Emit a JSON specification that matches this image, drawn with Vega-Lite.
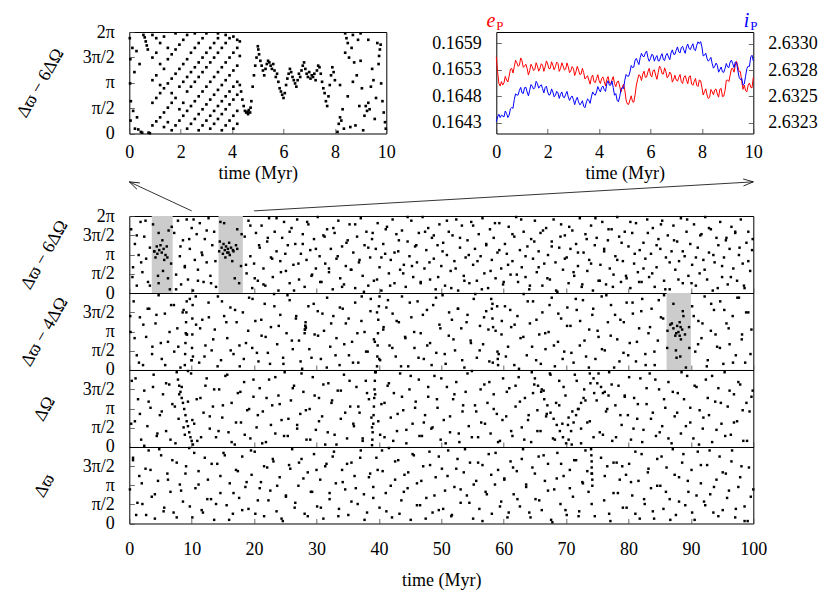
{
"$schema":"https://vega.github.io/schema/vega-lite/v6.json",
"background":"white",
"padding":{"left":12.3,"top":10,"right":5,"bottom":5},
"bounds":"flush",
"spacing":184,
"config":{
"font":"Liberation Serif, DejaVu Serif, serif",
"view":{"stroke":"black","strokeWidth":1},
"axis":{"labelFont":"Liberation Serif, DejaVu Serif, serif","titleFont":"Liberation Serif, DejaVu Serif, serif","labelFontSize":18,"titleFontSize":18,"titleFontWeight":"normal","labelColor":"#000","titleColor":"#000","domain":false,"grid":false,"tickColor":"#444","tickSize":-5,"tickWidth":0.8,"labelFlush":false}
},
"datasets":{
"tl":[{"t":0.02,"y":5.9},{"t":0.04,"y":4.6},{"t":0.03,"y":3.1},{"t":0.06,"y":2.0},{"t":0.05,"y":0.8},{"t":0.12,"y":5.3},{"t":0.15,"y":1.4},{"t":0.2,"y":3.8},{"t":0.22,"y":0.3},{"t":0.28,"y":5.1},{"t":0.3,"y":1.0},{"t":0.35,"y":0.25},{"t":0.4,"y":4.3},{"t":0.45,"y":0.1},{"t":0.5,"y":0.05},{"t":0.55,"y":6.1},{"t":0.6,"y":5.95},{"t":0.64,"y":5.7},{"t":0.68,"y":5.45},{"t":0.72,"y":5.2},{"t":0.75,"y":0.05},{"t":0.8,"y":0.02},
{"t":0.9,"y":0.5},{"t":0.9,"y":1.9},{"t":0.9,"y":3.3},{"t":0.9,"y":4.7},{"t":0.9,"y":6.1},
{"t":1.05,"y":0.75},{"t":1.05,"y":2.2},{"t":1.05,"y":3.6},{"t":1.05,"y":5.0},{"t":1.05,"y":5.9},
{"t":1.2,"y":1.0},{"t":1.2,"y":2.5},{"t":1.2,"y":3.0},{"t":1.2,"y":4.3},{"t":1.2,"y":5.6},
{"t":1.35,"y":0.4},{"t":1.35,"y":1.3},{"t":1.35,"y":2.8},{"t":1.35,"y":4.0},{"t":1.35,"y":6.0},
{"t":1.5,"y":0.7},{"t":1.5,"y":1.6},{"t":1.5,"y":3.1},{"t":1.5,"y":4.6},{"t":1.5,"y":5.3},
{"t":1.65,"y":0.2},{"t":1.65,"y":1.9},{"t":1.65,"y":2.5},{"t":1.65,"y":3.4},{"t":1.65,"y":4.9},
{"t":1.8,"y":0.5},{"t":1.8,"y":2.2},{"t":1.8,"y":3.7},{"t":1.8,"y":5.2},{"t":1.8,"y":6.2},
{"t":1.95,"y":0.8},{"t":1.95,"y":1.5},{"t":1.95,"y":2.9},{"t":1.95,"y":4.0},{"t":1.95,"y":5.5},
{"t":2.1,"y":1.1},{"t":2.1,"y":1.9},{"t":2.1,"y":3.2},{"t":2.1,"y":4.3},{"t":2.1,"y":5.8},
{"t":2.25,"y":0.3},{"t":2.25,"y":1.4},{"t":2.25,"y":2.6},{"t":2.25,"y":3.5},{"t":2.25,"y":4.6},{"t":2.25,"y":6.1},
{"t":2.4,"y":0.6},{"t":2.4,"y":1.7},{"t":2.4,"y":2.9},{"t":2.4,"y":3.8},{"t":2.4,"y":5.0},
{"t":2.55,"y":0.9},{"t":2.55,"y":2.0},{"t":2.55,"y":3.2},{"t":2.55,"y":4.1},{"t":2.55,"y":5.3},{"t":2.55,"y":6.2},
{"t":2.7,"y":0.2},{"t":2.7,"y":1.2},{"t":2.7,"y":2.3},{"t":2.7,"y":3.5},{"t":2.7,"y":4.4},{"t":2.7,"y":5.6},
{"t":2.85,"y":0.5},{"t":2.85,"y":1.5},{"t":2.85,"y":2.6},{"t":2.85,"y":3.8},{"t":2.85,"y":4.7},{"t":2.85,"y":5.9},
{"t":3.0,"y":0.8},{"t":3.0,"y":1.8},{"t":3.0,"y":2.9},{"t":3.0,"y":4.1},{"t":3.0,"y":5.0},{"t":3.0,"y":6.2},
{"t":3.15,"y":0.3},{"t":3.15,"y":1.1},{"t":3.15,"y":2.1},{"t":3.15,"y":3.2},{"t":3.15,"y":4.4},{"t":3.15,"y":5.3},
{"t":3.3,"y":0.6},{"t":3.3,"y":1.4},{"t":3.3,"y":2.4},{"t":3.3,"y":3.5},{"t":3.3,"y":4.7},{"t":3.3,"y":5.6},
{"t":3.45,"y":0.9},{"t":3.45,"y":1.7},{"t":3.45,"y":2.7},{"t":3.45,"y":3.8},{"t":3.45,"y":5.0},{"t":3.45,"y":5.9},{"t":3.45,"y":6.2},
{"t":3.6,"y":0.2},{"t":3.6,"y":1.2},{"t":3.6,"y":2.0},{"t":3.6,"y":3.0},{"t":3.6,"y":4.1},{"t":3.6,"y":5.3},
{"t":3.75,"y":0.5},{"t":3.75,"y":1.5},{"t":3.75,"y":2.3},{"t":3.75,"y":3.3},{"t":3.75,"y":4.4},{"t":3.75,"y":5.6},{"t":3.75,"y":6.1},
{"t":3.9,"y":0.8},{"t":3.9,"y":1.8},{"t":3.9,"y":2.6},{"t":3.9,"y":3.6},{"t":3.9,"y":4.7},{"t":3.9,"y":5.9},
{"t":4.05,"y":0.3},{"t":4.05,"y":1.1},{"t":4.05,"y":2.1},{"t":4.05,"y":2.9},{"t":4.05,"y":3.9},{"t":4.05,"y":5.0},{"t":4.05,"y":6.0},
{"t":4.2,"y":0.6},{"t":4.2,"y":1.4},{"t":4.2,"y":2.4},{"t":4.2,"y":3.2},{"t":4.2,"y":4.2},{"t":4.2,"y":5.3},{"t":4.2,"y":5.8},
{"t":4.3,"y":3.0},{"t":4.35,"y":2.6},{"t":4.4,"y":2.1},{"t":4.45,"y":1.7},{"t":4.5,"y":1.4},{"t":4.55,"y":1.3},{"t":4.6,"y":1.35},{"t":4.62,"y":1.2},{"t":4.65,"y":1.45},{"t":4.7,"y":1.3},{"t":4.72,"y":1.6},{"t":4.75,"y":2.0},{"t":4.3,"y":4.8},{"t":4.3,"y":5.7},
{"t":4.8,"y":2.9},{"t":4.85,"y":3.6},{"t":4.9,"y":4.2},{"t":4.95,"y":4.7},{"t":5.0,"y":5.4},{"t":5.02,"y":5.2},{"t":5.05,"y":4.9},{"t":5.1,"y":4.5},{"t":5.15,"y":4.2},{"t":5.2,"y":3.9},{"t":5.25,"y":3.6},{"t":5.3,"y":4.0},{"t":5.35,"y":4.3},{"t":5.4,"y":4.5},{"t":5.45,"y":4.4},{"t":5.5,"y":4.2},{"t":5.55,"y":4.0},{"t":5.6,"y":4.3},{"t":5.65,"y":3.9},{"t":5.7,"y":3.5},{"t":5.75,"y":3.7},{"t":5.8,"y":3.2},{"t":5.85,"y":2.8},{"t":5.9,"y":2.6},{"t":5.95,"y":2.4},{"t":6.0,"y":2.2},{"t":6.05,"y":2.5},{"t":6.1,"y":3.0},{"t":6.15,"y":3.4},{"t":6.2,"y":3.7},{"t":6.25,"y":4.0},{"t":6.3,"y":3.8},{"t":6.35,"y":3.5},{"t":6.4,"y":3.3},{"t":6.45,"y":3.1},{"t":6.5,"y":2.9},{"t":6.55,"y":3.3},{"t":6.6,"y":3.7},{"t":6.65,"y":3.5},{"t":6.7,"y":3.9},{"t":6.75,"y":4.2},{"t":6.8,"y":4.4},{"t":6.85,"y":4.0},{"t":6.9,"y":3.7},{"t":6.95,"y":3.5},{"t":7.0,"y":3.8},{"t":7.05,"y":3.4},{"t":7.1,"y":3.6},{"t":7.15,"y":3.5},{"t":7.2,"y":3.7},{"t":7.25,"y":3.3},{"t":7.3,"y":3.9},{"t":7.35,"y":4.2},{"t":7.4,"y":4.1},{"t":7.45,"y":3.7},{"t":7.5,"y":3.2},{"t":7.55,"y":2.8},{"t":7.6,"y":2.5},{"t":7.65,"y":2.0},{"t":7.7,"y":1.7},{"t":7.75,"y":2.3},{"t":7.8,"y":3.0},{"t":7.85,"y":3.6},{"t":7.9,"y":4.1},{"t":7.95,"y":3.8},{"t":8.0,"y":3.3},
{"t":8.1,"y":0.1},{"t":8.15,"y":0.6},{"t":8.2,"y":1.0},{"t":8.25,"y":0.8},{"t":8.3,"y":1.5},{"t":8.35,"y":0.3},{"t":8.4,"y":6.2},{"t":8.45,"y":5.9},{"t":8.5,"y":5.6},{"t":8.55,"y":4.7},{"t":8.6,"y":0.4},{"t":8.65,"y":5.3},{"t":8.7,"y":6.1},{"t":8.75,"y":4.4},{"t":8.8,"y":0.5},{"t":8.85,"y":3.6},{"t":8.9,"y":5.8},{"t":8.95,"y":1.7},{"t":9.0,"y":6.2},{"t":9.05,"y":2.8},{"t":9.1,"y":0.2},{"t":9.15,"y":1.1},{"t":9.2,"y":1.7},{"t":9.25,"y":1.4},{"t":9.3,"y":1.9},{"t":9.35,"y":1.5},{"t":9.4,"y":2.9},{"t":9.45,"y":4.0},{"t":9.5,"y":3.3},{"t":9.55,"y":0.9},{"t":9.6,"y":2.2},{"t":9.65,"y":5.6},{"t":9.7,"y":4.3},{"t":9.72,"y":4.8},{"t":9.75,"y":5.2},{"t":9.78,"y":5.5},{"t":9.8,"y":3.1},{"t":9.85,"y":2.0},{"t":9.9,"y":1.3},{"t":9.95,"y":0.7},{"t":9.98,"y":0.3},{"t":8.2,"y":3.0},{"t":8.5,"y":2.3},{"t":8.7,"y":3.2},{"t":9.0,"y":4.5},{"t":9.3,"y":5.8},{"t":8.4,"y":5.0}],
"ep":[{"t":0,"v":0.165602},{"t":0.05,"v":0.165302},{"t":0.1,"v":0.165068},{"t":0.15,"v":0.165015},{"t":0.2,"v":0.165102},{"t":0.25,"v":0.165035},{"t":0.3,"v":0.165081},{"t":0.4,"v":0.165135},{"t":0.5,"v":0.165215},{"t":0.6,"v":0.165368},{"t":0.7,"v":0.165402},{"t":0.8,"v":0.165482},{"t":0.9,"v":0.165435},{"t":1.0,"v":0.165522},{"t":1.1,"v":0.165415},{"t":1.2,"v":0.165368},{"t":1.3,"v":0.165322},{"t":1.4,"v":0.165402},{"t":1.5,"v":0.165349},{"t":1.6,"v":0.165415},{"t":1.7,"v":0.165368},{"t":1.8,"v":0.165435},{"t":1.9,"v":0.165402},{"t":2.0,"v":0.165455},{"t":2.1,"v":0.165368},{"t":2.2,"v":0.165435},{"t":2.3,"v":0.165402},{"t":2.4,"v":0.165469},{"t":2.5,"v":0.165368},{"t":2.6,"v":0.165415},{"t":2.7,"v":0.165355},{"t":2.8,"v":0.165402},{"t":2.9,"v":0.165322},{"t":3.0,"v":0.165368},{"t":3.1,"v":0.165302},{"t":3.2,"v":0.165335},{"t":3.3,"v":0.165255},{"t":3.4,"v":0.165282},{"t":3.5,"v":0.165188},{"t":3.6,"v":0.165135},{"t":3.7,"v":0.165188},{"t":3.8,"v":0.165102},{"t":3.9,"v":0.165162},{"t":4.0,"v":0.165121},{"t":4.1,"v":0.165168},{"t":4.2,"v":0.165108},{"t":4.3,"v":0.165148},{"t":4.4,"v":0.165081},{"t":4.5,"v":0.165135},{"t":4.6,"v":0.165068},{"t":4.7,"v":0.165095},{"t":4.8,"v":0.165015},{"t":4.9,"v":0.164988},{"t":5.0,"v":0.164935},{"t":5.05,"v":0.164734},{"t":5.1,"v":0.164654},{"t":5.2,"v":0.164734},{"t":5.3,"v":0.164701},{"t":5.4,"v":0.164835},{"t":5.45,"v":0.165035},{"t":5.5,"v":0.165148},{"t":5.6,"v":0.165215},{"t":5.7,"v":0.165255},{"t":5.8,"v":0.165188},{"t":5.9,"v":0.165302},{"t":6.0,"v":0.165235},{"t":6.1,"v":0.165322},{"t":6.2,"v":0.165235},{"t":6.3,"v":0.165282},{"t":6.4,"v":0.165368},{"t":6.5,"v":0.165255},{"t":6.6,"v":0.165302},{"t":6.7,"v":0.165215},{"t":6.8,"v":0.165255},{"t":6.9,"v":0.165148},{"t":7.0,"v":0.165135},{"t":7.1,"v":0.165188},{"t":7.2,"v":0.165102},{"t":7.3,"v":0.165188},{"t":7.4,"v":0.165135},{"t":7.5,"v":0.165202},{"t":7.6,"v":0.165055},{"t":7.7,"v":0.165102},{"t":7.8,"v":0.165028},{"t":7.9,"v":0.165135},{"t":8.0,"v":0.164988},{"t":8.1,"v":0.164901},{"t":8.2,"v":0.164835},{"t":8.3,"v":0.164787},{"t":8.4,"v":0.164901},{"t":8.5,"v":0.164935},{"t":8.6,"v":0.164854},{"t":8.7,"v":0.164948},{"t":8.8,"v":0.164801},{"t":8.9,"v":0.164921},{"t":9.0,"v":0.165135},{"t":9.1,"v":0.165235},{"t":9.2,"v":0.165368},{"t":9.3,"v":0.165435},{"t":9.4,"v":0.165402},{"t":9.5,"v":0.165302},{"t":9.55,"v":0.165102},{"t":9.6,"v":0.164948},{"t":9.7,"v":0.164921},{"t":9.8,"v":0.165035},{"t":9.9,"v":0.164988},{"t":10.0,"v":0.165188},
{"t":0.35,"v":0.165208},{"t":0.45,"v":0.165095},{"t":0.55,"v":0.165352},{"t":0.65,"v":0.165275},{"t":0.75,"v":0.165532},{"t":0.85,"v":0.165409},{"t":0.95,"v":0.165579},{"t":1.05,"v":0.165389},{"t":1.15,"v":0.165452},{"t":1.25,"v":0.165235},{"t":1.35,"v":0.165452},{"t":1.45,"v":0.165326},{"t":1.55,"v":0.165482},{"t":1.65,"v":0.165312},{"t":1.75,"v":0.165462},{"t":1.85,"v":0.165309},{"t":1.95,"v":0.165519},{"t":2.05,"v":0.165362},{"t":2.15,"v":0.165502},{"t":2.25,"v":0.165339},{"t":2.35,"v":0.165496},{"t":2.45,"v":0.165309},{"t":2.55,"v":0.165482},{"t":2.65,"v":0.165335},{"t":2.75,"v":0.165479},{"t":2.85,"v":0.165282},{"t":2.95,"v":0.165405},{"t":3.05,"v":0.165225},{"t":3.15,"v":0.165409},{"t":3.25,"v":0.165245},{"t":3.35,"v":0.165369},{"t":3.45,"v":0.165155},{"t":3.55,"v":0.165222},{"t":3.65,"v":0.165052},{"t":3.75,"v":0.165235},{"t":3.85,"v":0.165082},{"t":3.95,"v":0.165242},{"t":4.05,"v":0.165065},{"t":4.15,"v":0.165198},{"t":4.25,"v":0.165018},{"t":4.35,"v":0.165205},{"t":4.45,"v":0.165058},{"t":4.55,"v":0.165202},{"t":4.65,"v":0.165002},{"t":4.75,"v":0.165115},{"t":4.85,"v":0.164892},{"t":4.95,"v":0.165052},{"t":5.15,"v":0.164644},{"t":5.25,"v":0.164818},{"t":5.35,"v":0.164688},{"t":5.55,"v":0.165242},{"t":5.65,"v":0.165125},{"t":5.75,"v":0.165312},{"t":5.85,"v":0.165195},{"t":5.95,"v":0.165369},{"t":6.05,"v":0.165199},{"t":6.15,"v":0.165339},{"t":6.25,"v":0.165149},{"t":6.35,"v":0.165415},{"t":6.45,"v":0.165262},{"t":6.55,"v":0.165379},{"t":6.65,"v":0.165179},{"t":6.75,"v":0.165295},{"t":6.85,"v":0.165092},{"t":6.95,"v":0.165232},{"t":7.05,"v":0.165112},{"t":7.15,"v":0.165245},{"t":7.25,"v":0.165065},{"t":7.35,"v":0.165222},{"t":7.45,"v":0.165059},{"t":7.55,"v":0.165219},{"t":7.65,"v":0.165029},{"t":7.75,"v":0.165165},{"t":7.85,"v":0.165002},{"t":7.95,"v":0.165122},{"t":8.05,"v":0.164835},{"t":8.15,"v":0.164958},{"t":8.25,"v":0.164761},{"t":8.35,"v":0.164944},{"t":8.45,"v":0.164838},{"t":8.55,"v":0.164955},{"t":8.65,"v":0.164791},{"t":8.75,"v":0.164965},{"t":8.85,"v":0.164811},{"t":8.95,"v":0.165128},{"t":9.05,"v":0.165105},{"t":9.15,"v":0.165362},{"t":9.25,"v":0.165292},{"t":9.35,"v":0.165509},{"t":9.45,"v":0.165302},{"t":9.65,"v":0.165035},{"t":9.75,"v":0.164898},{"t":9.85,"v":0.165072},{"t":9.95,"v":0.164978}],
"ip":[{"t":0,"v":2.63229},{"t":0.05,"v":2.632337},{"t":0.1,"v":2.632362},{"t":0.15,"v":2.632331},{"t":0.2,"v":2.632353},{"t":0.3,"v":2.632337},{"t":0.4,"v":2.632369},{"t":0.5,"v":2.632353},{"t":0.6,"v":2.632425},{"t":0.7,"v":2.632501},{"t":0.8,"v":2.632542},{"t":0.9,"v":2.632589},{"t":1.0,"v":2.632564},{"t":1.1,"v":2.632614},{"t":1.2,"v":2.632573},{"t":1.3,"v":2.632589},{"t":1.4,"v":2.632627},{"t":1.5,"v":2.632614},{"t":1.6,"v":2.632652},{"t":1.7,"v":2.632627},{"t":1.8,"v":2.632605},{"t":1.9,"v":2.632614},{"t":2.0,"v":2.632573},{"t":2.1,"v":2.632551},{"t":2.2,"v":2.632573},{"t":2.3,"v":2.632542},{"t":2.4,"v":2.632564},{"t":2.5,"v":2.632551},{"t":2.6,"v":2.632526},{"t":2.7,"v":2.632551},{"t":2.8,"v":2.632526},{"t":2.9,"v":2.63252},{"t":3.0,"v":2.632501},{"t":3.1,"v":2.632495},{"t":3.2,"v":2.632479},{"t":3.3,"v":2.632463},{"t":3.4,"v":2.632438},{"t":3.5,"v":2.63247},{"t":3.6,"v":2.632495},{"t":3.7,"v":2.632526},{"t":3.8,"v":2.632551},{"t":3.9,"v":2.632573},{"t":4.0,"v":2.632595},{"t":4.1,"v":2.632614},{"t":4.2,"v":2.632595},{"t":4.3,"v":2.632652},{"t":4.4,"v":2.632637},{"t":4.5,"v":2.632677},{"t":4.55,"v":2.632614},{"t":4.6,"v":2.632542},{"t":4.7,"v":2.632495},{"t":4.8,"v":2.632526},{"t":4.9,"v":2.632614},{"t":5.0,"v":2.632684},{"t":5.1,"v":2.632722},{"t":5.2,"v":2.632763},{"t":5.3,"v":2.632803},{"t":5.4,"v":2.632873},{"t":5.5,"v":2.632857},{"t":5.6,"v":2.632898},{"t":5.7,"v":2.632911},{"t":5.8,"v":2.632942},{"t":5.9,"v":2.632898},{"t":6.0,"v":2.632889},{"t":6.1,"v":2.63292},{"t":6.2,"v":2.632898},{"t":6.3,"v":2.632866},{"t":6.4,"v":2.632911},{"t":6.5,"v":2.632879},{"t":6.6,"v":2.63292},{"t":6.7,"v":2.632904},{"t":6.8,"v":2.632942},{"t":6.9,"v":2.63293},{"t":7.0,"v":2.632967},{"t":7.1,"v":2.632952},{"t":7.2,"v":2.632993},{"t":7.3,"v":2.632967},{"t":7.4,"v":2.632999},{"t":7.5,"v":2.632983},{"t":7.6,"v":2.633005},{"t":7.7,"v":2.632974},{"t":7.8,"v":2.633015},{"t":7.9,"v":2.63303},{"t":7.95,"v":2.633049},{"t":8.0,"v":2.632999},{"t":8.1,"v":2.63292},{"t":8.2,"v":2.632889},{"t":8.3,"v":2.632879},{"t":8.4,"v":2.632841},{"t":8.5,"v":2.632816},{"t":8.6,"v":2.632826},{"t":8.7,"v":2.632785},{"t":8.8,"v":2.632763},{"t":8.9,"v":2.632794},{"t":9.0,"v":2.63281},{"t":9.1,"v":2.632857},{"t":9.2,"v":2.632841},{"t":9.3,"v":2.632857},{"t":9.4,"v":2.632772},{"t":9.5,"v":2.63269},{"t":9.6,"v":2.632637},{"t":9.7,"v":2.632722},{"t":9.8,"v":2.632816},{"t":9.9,"v":2.632904},{"t":10.0,"v":2.632866},
{"t":0.35,"v":2.632393},{"t":0.45,"v":2.632331},{"t":0.55,"v":2.632414},{"t":0.65,"v":2.632418},{"t":0.75,"v":2.632556},{"t":0.85,"v":2.632545},{"t":0.95,"v":2.632616},{"t":1.05,"v":2.632559},{"t":1.15,"v":2.632618},{"t":1.25,"v":2.632536},{"t":1.35,"v":2.632643},{"t":1.45,"v":2.6326},{"t":1.55,"v":2.632673},{"t":1.65,"v":2.632609},{"t":1.75,"v":2.632641},{"t":1.85,"v":2.632564},{"t":1.95,"v":2.632628},{"t":2.05,"v":2.632542},{"t":2.15,"v":2.632602},{"t":2.25,"v":2.632527},{"t":2.35,"v":2.632578},{"t":2.45,"v":2.632512},{"t":2.55,"v":2.632573},{"t":2.65,"v":2.632518},{"t":2.75,"v":2.632578},{"t":2.85,"v":2.632493},{"t":2.95,"v":2.632535},{"t":3.05,"v":2.632453},{"t":3.15,"v":2.632522},{"t":3.25,"v":2.632451},{"t":3.35,"v":2.63249},{"t":3.45,"v":2.632424},{"t":3.55,"v":2.632507},{"t":3.65,"v":2.632465},{"t":3.75,"v":2.632573},{"t":3.85,"v":2.632542},{"t":3.95,"v":2.632624},{"t":4.05,"v":2.632574},{"t":4.15,"v":2.632629},{"t":4.25,"v":2.632578},{"t":4.35,"v":2.632679},{"t":4.45,"v":2.632637},{"t":4.65,"v":2.632558},{"t":4.75,"v":2.63248},{"t":4.85,"v":2.632595},{"t":4.95,"v":2.632604},{"t":5.05,"v":2.632738},{"t":5.15,"v":2.632722},{"t":5.25,"v":2.632823},{"t":5.35,"v":2.632808},{"t":5.45,"v":2.63289},{"t":5.55,"v":2.632832},{"t":5.65,"v":2.632939},{"t":5.75,"v":2.632906},{"t":5.85,"v":2.63296},{"t":5.95,"v":2.632863},{"t":6.05,"v":2.632929},{"t":6.15,"v":2.632864},{"t":6.25,"v":2.632917},{"t":6.35,"v":2.632868},{"t":6.45,"v":2.632935},{"t":6.55,"v":2.632869},{"t":6.65,"v":2.632937},{"t":6.75,"v":2.632878},{"t":6.85,"v":2.632971},{"t":6.95,"v":2.632928},{"t":7.05,"v":2.632999},{"t":7.15,"v":2.632942},{"t":7.25,"v":2.633005},{"t":7.35,"v":2.632938},{"t":7.45,"v":2.633026},{"t":7.55,"v":2.632974},{"t":7.65,"v":2.633029},{"t":7.75,"v":2.632964},{"t":7.85,"v":2.633047},{"t":8.05,"v":2.632914},{"t":8.15,"v":2.632939},{"t":8.25,"v":2.632864},{"t":8.35,"v":2.6329},{"t":8.45,"v":2.632798},{"t":8.55,"v":2.632846},{"t":8.65,"v":2.63276},{"t":8.75,"v":2.632809},{"t":8.85,"v":2.632758},{"t":8.95,"v":2.632842},{"t":9.05,"v":2.632803},{"t":9.15,"v":2.632874},{"t":9.25,"v":2.632804},{"t":9.35,"v":2.632849},{"t":9.45,"v":2.632711},{"t":9.55,"v":2.632703},{"t":9.65,"v":2.632649},{"t":9.75,"v":2.632794},{"t":9.85,"v":2.632815},{"t":9.95,"v":2.63292}],
"lab":[{"k":"e","t":0,"v":0.1662},{"k":"eP","t":0,"v":0.16615},{"k":"i","t":10,"v":2.633187},{"k":"iP","t":10,"v":2.633163}],
"boxes":[{"p":1,"t":3.6,"t2":6.95,"y":0,"y2":6.2832},{"p":1,"t":14.3,"t2":18.2,"y":0,"y2":6.2832},{"p":2,"t":86.1,"t2":90,"y":0,"y2":6.2832}],
"arrows":[{"id":1,"t":10,"y":6.7,"t2":0,"y2":9.07},{"id":2,"t":20,"y":6.7,"t2":100,"y2":9.07}],
"heads":[{"id":1,"t":0,"y":9.07},{"id":2,"t":100,"y":9.07}],
"p1":[{"t":0.3,"y":5.2},{"t":0.6,"y":2.1},{"t":0.9,"y":4.0},{"t":1.2,"y":0.6},{"t":1.5,"y":3.1},{"t":1.8,"y":5.8},{"t":2.1,"y":1.7},{"t":2.4,"y":4.6},{"t":2.7,"y":2.8},{"t":3.0,"y":0.9},{"t":3.3,"y":3.7},
{"t":3.8,"y":5.6},{"t":4.0,"y":3.4},{"t":4.2,"y":2.9},{"t":4.4,"y":3.8},{"t":4.5,"y":3.2},{"t":4.6,"y":1.4},{"t":4.7,"y":0.8},{"t":4.8,"y":3.5},{"t":5.0,"y":3.9},{"t":5.2,"y":3.3},{"t":5.3,"y":4.3},{"t":5.5,"y":3.6},{"t":5.6,"y":2.7},{"t":5.8,"y":3.1},{"t":6.0,"y":3.8},{"t":6.2,"y":1.2},{"t":6.3,"y":5.1},{"t":6.5,"y":0.3},{"t":6.7,"y":2.4},
{"t":7.2,"y":4.9},{"t":7.5,"y":1.5},{"t":7.8,"y":5.9},{"t":8.1,"y":3.0},{"t":8.3,"y":0.7},{"t":8.6,"y":4.3},{"t":8.9,"y":2.2},{"t":9.2,"y":6.0},{"t":9.4,"y":1.1},{"t":9.7,"y":3.6},{"t":10.0,"y":5.3},{"t":10.2,"y":0.2},{"t":10.5,"y":2.7},{"t":10.8,"y":4.8},{"t":11.0,"y":1.9},{"t":11.3,"y":5.7},{"t":11.6,"y":3.3},{"t":11.9,"y":0.9},{"t":12.1,"y":4.4},{"t":12.4,"y":2.5},{"t":12.7,"y":6.1},{"t":13.0,"y":1.4},{"t":13.3,"y":3.9},{"t":13.6,"y":5.0},{"t":13.9,"y":0.5},
{"t":14.4,"y":3.4},{"t":14.6,"y":5.8},{"t":14.8,"y":3.7},{"t":15.0,"y":3.2},{"t":15.1,"y":4.0},{"t":15.3,"y":3.5},{"t":15.4,"y":2.9},{"t":15.5,"y":3.8},{"t":15.7,"y":3.3},{"t":15.8,"y":3.6},{"t":16.0,"y":4.1},{"t":16.1,"y":3.1},{"t":16.3,"y":3.7},{"t":16.5,"y":2.6},{"t":16.7,"y":3.4},{"t":16.9,"y":1.2},{"t":17.1,"y":3.9},{"t":17.3,"y":5.2},{"t":17.6,"y":0.8},{"t":17.9,"y":2.2},
{"t":18.5,"y":4.6},{"t":18.8,"y":1.6},{"t":19.1,"y":5.9},{"t":19.4,"y":3.0},{"t":19.7,"y":0.4},{"t":20.0,"y":2.4},{"t":20.3,"y":4.9},{"t":20.6,"y":1.0},{"t":20.9,"y":3.7},{"t":21.2,"y":5.5},{"t":21.5,"y":2.0},{"t":21.8,"y":0.6},{"t":22.1,"y":4.2},{"t":22.4,"y":6.1},{"t":22.7,"y":2.9},{"t":23.0,"y":1.3},{"t":23.3,"y":5.0},{"t":23.6,"y":3.4},{"t":23.9,"y":0.2},{"t":24.2,"y":2.6},{"t":24.5,"y":4.5},{"t":24.8,"y":5.8},{"t":25.1,"y":1.8},{"t":25.4,"y":3.9},{"t":25.7,"y":0.8},{"t":26.0,"y":5.3},{"t":26.3,"y":2.3},{"t":26.6,"y":4.0},{"t":26.9,"y":6.0},{"t":27.2,"y":1.1},{"t":27.5,"y":3.2},{"t":27.8,"y":4.8},{"t":28.1,"y":0.5},{"t":28.4,"y":2.7},{"t":28.7,"y":5.6},{"t":29.0,"y":3.5},{"t":29.3,"y":1.5},{"t":29.6,"y":4.4},{"t":29.9,"y":2.0},{"t":30.2,"y":6.2},{"t":30.5,"y":3.0},{"t":30.8,"y":0.9},{"t":31.1,"y":4.7},{"t":31.4,"y":2.4},{"t":31.7,"y":5.2},{"t":32.0,"y":1.7},{"t":32.3,"y":3.6},{"t":32.6,"y":0.3},{"t":32.9,"y":4.9},{"t":33.2,"y":2.8},{"t":33.5,"y":5.9},{"t":33.8,"y":1.2},{"t":34.1,"y":3.8},{"t":34.4,"y":0.7},{"t":34.7,"y":2.2},{"t":35.0,"y":4.3},{"t":35.3,"y":5.6},{"t":35.6,"y":1.9},{"t":35.9,"y":3.3},{"t":36.2,"y":0.4},{"t":36.5,"y":4.6},{"t":36.8,"y":2.5},{"t":37.1,"y":6.1},{"t":37.4,"y":1.4},{"t":37.7,"y":3.9},{"t":38.0,"y":5.0},{"t":38.3,"y":0.6},{"t":38.6,"y":2.9},{"t":38.9,"y":4.4},{"t":39.2,"y":1.0},{"t":39.5,"y":3.6},{"t":39.8,"y":5.7},{"t":40.1,"y":2.1},{"t":40.4,"y":0.2},{"t":40.7,"y":4.0},{"t":41.0,"y":3.2},{"t":41.3,"y":5.4},{"t":41.6,"y":1.6},{"t":41.9,"y":2.7},{"t":42.2,"y":6.0},{"t":42.5,"y":0.8},{"t":42.8,"y":4.8},{"t":43.1,"y":3.4},{"t":43.4,"y":1.9},{"t":43.7,"y":5.1},{"t":44.0,"y":2.3},{"t":44.3,"y":0.5},{"t":44.6,"y":4.2},{"t":44.9,"y":3.0},{"t":45.2,"y":5.9},{"t":45.5,"y":1.3},{"t":45.8,"y":3.8},{"t":46.1,"y":2.5},{"t":46.4,"y":4.9},{"t":46.7,"y":0.9},{"t":47.0,"y":6.2},{"t":47.3,"y":2.0},{"t":47.6,"y":3.5},{"t":47.9,"y":5.3},{"t":48.2,"y":1.1},{"t":48.5,"y":4.5},{"t":48.8,"y":2.8},{"t":49.1,"y":0.3},{"t":49.4,"y":3.9},{"t":49.7,"y":5.6},
{"t":50.0,"y":2.2},{"t":50.3,"y":4.1},{"t":50.6,"y":0.6},{"t":50.9,"y":3.1},{"t":51.2,"y":5.0},{"t":51.5,"y":1.8},{"t":51.8,"y":4.7},{"t":52.1,"y":2.6},{"t":52.4,"y":6.0},{"t":52.7,"y":0.2},{"t":53.0,"y":3.7},{"t":53.3,"y":5.5},{"t":53.6,"y":1.4},{"t":53.9,"y":2.9},{"t":54.2,"y":4.3},{"t":54.5,"y":0.8},{"t":54.8,"y":5.8},{"t":55.1,"y":2.3},{"t":55.4,"y":3.6},{"t":55.7,"y":1.0},{"t":56.0,"y":4.8},{"t":56.3,"y":3.0},{"t":56.6,"y":6.1},{"t":56.9,"y":1.6},{"t":57.2,"y":3.9},{"t":57.5,"y":0.4},{"t":57.8,"y":5.2},{"t":58.1,"y":2.7},{"t":58.4,"y":4.5},{"t":58.7,"y":1.2},{"t":59.0,"y":3.3},{"t":59.3,"y":5.7},{"t":59.6,"y":2.0},{"t":59.9,"y":0.7},{"t":60.2,"y":4.0},{"t":60.5,"y":3.2},{"t":60.8,"y":5.4},{"t":61.1,"y":1.5},{"t":61.4,"y":2.6},{"t":61.7,"y":4.6},{"t":62.0,"y":6.2},{"t":62.3,"y":0.9},{"t":62.6,"y":3.5},{"t":62.9,"y":2.1},{"t":63.2,"y":5.0},{"t":63.5,"y":1.3},{"t":63.8,"y":3.8},{"t":64.1,"y":0.3},{"t":64.4,"y":4.4},{"t":64.7,"y":2.8},{"t":65.0,"y":5.9},{"t":65.3,"y":1.7},{"t":65.6,"y":3.4},{"t":65.9,"y":4.9},{"t":66.2,"y":0.6},{"t":66.5,"y":2.4},{"t":66.8,"y":5.3},{"t":67.1,"y":3.1},{"t":67.4,"y":1.1},{"t":67.7,"y":4.2},{"t":68.0,"y":6.0},{"t":68.3,"y":2.5},{"t":68.6,"y":0.1},{"t":68.9,"y":3.7},{"t":69.2,"y":5.6},{"t":69.5,"y":1.9},{"t":69.8,"y":4.7},{"t":70.1,"y":2.9},{"t":70.4,"y":0.8},{"t":70.7,"y":3.6},{"t":71.0,"y":5.1},{"t":71.3,"y":1.4},{"t":71.6,"y":4.0},{"t":71.9,"y":2.2},{"t":72.2,"y":6.1},{"t":72.5,"y":0.5},{"t":72.8,"y":3.3},{"t":73.1,"y":4.8},{"t":73.4,"y":1.8},{"t":73.7,"y":2.7},{"t":74.0,"y":5.5},{"t":74.3,"y":0.2},{"t":74.6,"y":3.9},{"t":74.9,"y":4.5},{"t":75.2,"y":1.0},{"t":75.5,"y":2.3},{"t":75.8,"y":5.8},{"t":76.1,"y":3.4},{"t":76.4,"y":0.7},{"t":76.7,"y":4.3},{"t":77.0,"y":2.0},{"t":77.3,"y":5.2},{"t":77.6,"y":1.5},{"t":77.9,"y":3.0},{"t":78.2,"y":6.2},{"t":78.5,"y":4.6},{"t":78.8,"y":0.9},{"t":79.1,"y":2.6},{"t":79.4,"y":5.0},{"t":79.7,"y":1.2},{"t":80.0,"y":3.8},{"t":80.3,"y":0.4},{"t":80.6,"y":4.9},{"t":80.9,"y":2.4},{"t":81.2,"y":5.7},{"t":81.5,"y":1.7},{"t":81.8,"y":3.5},{"t":82.1,"y":0.9},{"t":82.4,"y":4.1},{"t":82.7,"y":2.8},{"t":83.0,"y":6.0},{"t":83.3,"y":1.3},{"t":83.6,"y":3.2},{"t":83.9,"y":5.3},{"t":84.2,"y":0.5},{"t":84.5,"y":2.1},{"t":84.8,"y":4.4},{"t":85.1,"y":3.6},{"t":85.4,"y":5.9},{"t":85.7,"y":1.0},{"t":86.0,"y":2.9},{"t":86.3,"y":4.7},{"t":86.6,"y":0.3},{"t":86.9,"y":3.4},{"t":87.2,"y":5.5},{"t":87.5,"y":1.9},{"t":87.8,"y":4.2},{"t":88.1,"y":2.6},{"t":88.4,"y":6.1},{"t":88.7,"y":0.8},{"t":89.0,"y":3.0},{"t":89.3,"y":5.0},{"t":89.6,"y":1.4},{"t":89.9,"y":4.0},{"t":90.2,"y":2.3},{"t":90.5,"y":5.6},{"t":90.8,"y":0.6},{"t":91.1,"y":3.7},{"t":91.4,"y":1.6},{"t":91.7,"y":4.8},{"t":92.0,"y":2.7},{"t":92.3,"y":6.2},{"t":92.6,"y":1.1},{"t":92.9,"y":3.3},{"t":93.2,"y":5.2},{"t":93.5,"y":0.2},{"t":93.8,"y":2.5},{"t":94.1,"y":4.5},{"t":94.4,"y":3.9},{"t":94.7,"y":5.8},{"t":95.0,"y":1.3},{"t":95.3,"y":2.9},{"t":95.6,"y":4.3},{"t":95.9,"y":0.7},{"t":96.2,"y":3.6},{"t":96.5,"y":5.4},{"t":96.8,"y":2.0},{"t":97.1,"y":4.9},{"t":97.4,"y":1.0},{"t":97.7,"y":3.1},{"t":98.0,"y":6.0},{"t":98.3,"y":2.4},{"t":98.6,"y":0.4},{"t":98.9,"y":4.1},{"t":99.2,"y":5.0},{"t":99.5,"y":1.8},{"t":99.8,"y":3.5},
{"t":0.5,"y":1.3},{"t":1.2,"y":4.7},{"t":1.9,"y":2.5},{"t":2.6,"y":5.9},{"t":3.3,"y":0.6},{"t":4.0,"y":3.4},{"t":4.7,"y":4.9},{"t":5.4,"y":1.8},{"t":6.1,"y":2.9},{"t":6.8,"y":5.4},{"t":7.5,"y":0.3},{"t":8.2,"y":3.8},{"t":8.9,"y":2.1},{"t":9.6,"y":4.4},{"t":10.3,"y":6.0},{"t":11.0,"y":1.0},{"t":11.7,"y":3.1},{"t":12.4,"y":5.1},{"t":13.1,"y":0.8},{"t":13.8,"y":2.6},{"t":14.5,"y":4.2},{"t":15.2,"y":5.7},{"t":15.9,"y":3.3},{"t":16.6,"y":3.5},{"t":17.3,"y":3.6},{"t":18.0,"y":4.8},{"t":18.7,"y":2.3},{"t":19.4,"y":5.5},{"t":20.1,"y":1.2},{"t":20.8,"y":3.9},{"t":21.5,"y":0.7},{"t":22.2,"y":4.5},{"t":22.9,"y":2.8},{"t":23.6,"y":6.1},{"t":24.3,"y":1.7},{"t":25.0,"y":3.2},{"t":25.7,"y":5.0},{"t":26.4,"y":0.2},{"t":27.1,"y":2.4},{"t":27.8,"y":4.0},{"t":28.5,"y":5.8},{"t":29.2,"y":1.4},{"t":29.9,"y":3.6},{"t":30.6,"y":0.9},{"t":31.3,"y":4.6},{"t":32.0,"y":2.0},{"t":32.7,"y":5.3},{"t":33.4,"y":3.0},{"t":34.1,"y":0.5},{"t":34.8,"y":4.1},{"t":35.5,"y":1.9},{"t":36.2,"y":5.6},{"t":36.9,"y":2.7},{"t":37.6,"y":0.1},{"t":38.3,"y":3.7},{"t":39.0,"y":4.9},{"t":39.7,"y":1.1},{"t":40.4,"y":2.9},{"t":41.1,"y":5.2},{"t":41.8,"y":0.6},{"t":42.5,"y":3.3},{"t":43.2,"y":4.3},{"t":43.9,"y":1.6},{"t":44.6,"y":6.2},{"t":45.3,"y":2.2},{"t":46.0,"y":3.9},{"t":46.7,"y":0.8},{"t":47.4,"y":5.0},{"t":48.1,"y":2.5},{"t":48.8,"y":4.7},{"t":49.5,"y":1.3},{"t":50.2,"y":3.4},{"t":50.9,"y":5.9},{"t":51.6,"y":0.4},{"t":52.3,"y":2.0},{"t":53.0,"y":4.5},{"t":53.7,"y":1.0},{"t":54.4,"y":3.1},{"t":55.1,"y":5.5},{"t":55.8,"y":2.6},{"t":56.5,"y":0.3},{"t":57.2,"y":4.0},{"t":57.9,"y":1.8},{"t":58.6,"y":5.7},{"t":59.3,"y":3.5},{"t":60.0,"y":0.9},{"t":60.7,"y":2.3},{"t":61.4,"y":4.8},{"t":62.1,"y":1.5},{"t":62.8,"y":6.0},{"t":63.5,"y":3.0},{"t":64.2,"y":0.6},{"t":64.9,"y":4.2},{"t":65.6,"y":2.1},{"t":66.3,"y":5.1},{"t":67.0,"y":1.2},{"t":67.7,"y":3.8},{"t":68.4,"y":0.2},{"t":69.1,"y":4.6},{"t":69.8,"y":2.8},{"t":70.5,"y":5.4},{"t":71.2,"y":1.7},{"t":71.9,"y":3.3},{"t":72.6,"y":0.7},{"t":73.3,"y":4.4},{"t":74.0,"y":2.4},{"t":74.7,"y":6.1},{"t":75.4,"y":1.0},{"t":76.1,"y":3.6},{"t":76.8,"y":5.2},{"t":77.5,"y":0.5},{"t":78.2,"y":2.7},{"t":78.9,"y":4.1},{"t":79.6,"y":1.4},{"t":80.3,"y":5.8},{"t":81.0,"y":3.2},{"t":81.7,"y":0.9},{"t":82.4,"y":2.0},{"t":83.1,"y":4.9},{"t":83.8,"y":1.6},{"t":84.5,"y":3.9},{"t":85.2,"y":5.6},{"t":85.9,"y":0.3},{"t":86.6,"y":2.5},{"t":87.3,"y":4.3},{"t":88.0,"y":1.1},{"t":88.7,"y":3.4},{"t":89.4,"y":6.0},{"t":90.1,"y":0.8},{"t":90.8,"y":2.9},{"t":91.5,"y":4.7},{"t":92.2,"y":1.9},{"t":92.9,"y":5.3},{"t":93.6,"y":3.1},{"t":94.3,"y":0.4},{"t":95.0,"y":2.2},{"t":95.7,"y":4.5},{"t":96.4,"y":1.3},{"t":97.1,"y":5.0},{"t":97.8,"y":3.7},{"t":98.5,"y":0.6},{"t":99.2,"y":2.6},{"t":99.9,"y":4.4}],
"p2":[{"t":0.2,"y":3.1},{"t":0.7,"y":5.6},{"t":1.2,"y":1.2},{"t":1.7,"y":4.3},{"t":2.2,"y":0.4},{"t":2.7,"y":2.7},{"t":3.2,"y":5.0},{"t":3.7,"y":1.9},{"t":4.2,"y":3.8},{"t":4.7,"y":6.1},{"t":5.2,"y":0.9},{"t":5.7,"y":4.6},{"t":6.2,"y":2.3},{"t":6.7,"y":5.3},{"t":7.2,"y":1.5},{"t":7.7,"y":3.4},{"t":8.2,"y":0.2},{"t":8.7,"y":4.9},{"t":9.2,"y":2.9},{"t":9.7,"y":5.8},{"t":10.2,"y":1.1},{"t":10.7,"y":3.7},{"t":11.2,"y":0.6},{"t":11.7,"y":4.1},{"t":12.2,"y":2.0},{"t":12.7,"y":5.5},{"t":13.2,"y":1.6},{"t":13.7,"y":3.3},{"t":14.2,"y":6.0},{"t":14.7,"y":0.8},{"t":15.2,"y":4.4},{"t":15.7,"y":2.6},{"t":16.2,"y":5.1},{"t":16.7,"y":1.3},{"t":17.2,"y":3.9},{"t":17.7,"y":0.3},{"t":18.2,"y":4.7},{"t":18.7,"y":2.2},{"t":19.2,"y":5.9},{"t":19.7,"y":1.8},
{"t":20.2,"y":4.0},{"t":20.7,"y":0.7},{"t":21.2,"y":2.8},{"t":21.7,"y":5.4},{"t":22.2,"y":1.4},{"t":22.7,"y":3.5},{"t":23.2,"y":6.2},{"t":23.7,"y":2.1},{"t":24.2,"y":4.5},{"t":24.7,"y":0.5},{"t":25.2,"y":3.0},{"t":25.7,"y":5.7},{"t":26.2,"y":1.7},{"t":26.7,"y":4.2},{"t":27.2,"y":2.4},{"t":27.7,"y":0.1},{"t":28.2,"y":3.6},{"t":28.7,"y":5.2},{"t":29.2,"y":1.0},{"t":29.7,"y":2.9},{"t":30.2,"y":4.8},{"t":30.7,"y":0.9},{"t":31.2,"y":3.2},{"t":31.7,"y":5.9},{"t":32.2,"y":1.9},{"t":32.7,"y":4.4},{"t":33.2,"y":2.6},{"t":33.7,"y":0.4},{"t":34.2,"y":5.0},{"t":34.7,"y":3.8},{"t":35.2,"y":1.2},{"t":35.7,"y":2.3},{"t":36.2,"y":5.5},{"t":36.7,"y":0.6},{"t":37.2,"y":4.0},{"t":37.7,"y":3.1},{"t":38.2,"y":1.5},{"t":38.7,"y":5.8},{"t":39.2,"y":2.5},{"t":39.7,"y":4.7},
{"t":40.2,"y":0.8},{"t":40.7,"y":3.3},{"t":41.2,"y":5.1},{"t":41.7,"y":2.0},{"t":42.2,"y":4.6},{"t":42.7,"y":1.1},{"t":43.2,"y":3.9},{"t":43.7,"y":6.0},{"t":44.2,"y":2.7},{"t":44.7,"y":0.3},{"t":45.2,"y":4.3},{"t":45.7,"y":1.8},{"t":46.2,"y":5.6},{"t":46.7,"y":3.0},{"t":47.2,"y":0.9},{"t":47.7,"y":4.9},{"t":48.2,"y":2.2},{"t":48.7,"y":5.3},{"t":49.2,"y":1.4},{"t":49.7,"y":3.7},{"t":50.2,"y":6.1},{"t":50.7,"y":0.5},{"t":51.2,"y":2.8},{"t":51.7,"y":4.1},{"t":52.2,"y":1.6},{"t":52.7,"y":5.0},{"t":53.2,"y":3.4},{"t":53.7,"y":0.2},{"t":54.2,"y":4.5},{"t":54.7,"y":2.4},{"t":55.2,"y":5.8},{"t":55.7,"y":1.0},{"t":56.2,"y":3.6},{"t":56.7,"y":2.1},{"t":57.2,"y":4.8},{"t":57.7,"y":0.7},{"t":58.2,"y":5.4},{"t":58.7,"y":3.2},{"t":59.2,"y":1.3},{"t":59.7,"y":4.0},
{"t":60.2,"y":5.2},{"t":60.7,"y":1.9},{"t":61.2,"y":3.5},{"t":61.7,"y":0.4},{"t":62.2,"y":4.4},{"t":62.7,"y":2.6},{"t":63.2,"y":6.2},{"t":63.7,"y":1.2},{"t":64.2,"y":3.8},{"t":64.7,"y":5.6},{"t":65.2,"y":0.8},{"t":65.7,"y":2.9},{"t":66.2,"y":4.7},{"t":66.7,"y":1.7},{"t":67.2,"y":3.1},{"t":67.7,"y":5.9},{"t":68.2,"y":0.3},{"t":68.7,"y":2.3},{"t":69.2,"y":4.2},{"t":69.7,"y":1.5},{"t":70.2,"y":5.1},{"t":70.7,"y":3.6},{"t":71.2,"y":0.6},{"t":71.7,"y":4.9},{"t":72.2,"y":2.0},{"t":72.7,"y":5.7},{"t":73.2,"y":1.1},{"t":73.7,"y":3.3},{"t":74.2,"y":4.5},{"t":74.7,"y":0.9},{"t":75.2,"y":2.7},{"t":75.7,"y":6.0},{"t":76.2,"y":1.6},{"t":76.7,"y":3.9},{"t":77.2,"y":5.3},{"t":77.7,"y":0.2},{"t":78.2,"y":2.5},{"t":78.7,"y":4.1},{"t":79.2,"y":1.4},{"t":79.7,"y":5.5},
{"t":80.2,"y":2.2},{"t":80.7,"y":4.6},{"t":81.2,"y":0.7},{"t":81.7,"y":3.4},{"t":82.2,"y":5.8},{"t":82.7,"y":1.3},{"t":83.2,"y":3.0},{"t":83.7,"y":5.0},{"t":84.2,"y":0.4},{"t":84.7,"y":2.4},{"t":85.2,"y":4.3},{"t":85.7,"y":6.1},{"t":86.2,"y":1.8},{"t":86.7,"y":3.7},{"t":87.2,"y":5.4},{"t":87.7,"y":1.0},{"t":88.2,"y":2.8},{"t":88.7,"y":4.8},{"t":89.2,"y":0.2},{"t":89.7,"y":3.5},{"t":90.2,"y":5.2},{"t":90.7,"y":1.5},{"t":91.2,"y":4.0},{"t":91.7,"y":2.6},{"t":92.2,"y":6.0},{"t":92.7,"y":0.8},{"t":93.2,"y":3.2},{"t":93.7,"y":4.9},{"t":94.2,"y":1.9},{"t":94.7,"y":5.6},{"t":95.2,"y":0.5},{"t":95.7,"y":3.8},{"t":96.2,"y":2.1},{"t":96.7,"y":4.4},{"t":97.2,"y":1.2},{"t":97.7,"y":5.9},{"t":98.2,"y":2.9},{"t":98.7,"y":0.6},{"t":99.2,"y":4.7},{"t":99.7,"y":3.3},
{"t":8.9,"y":0.4},{"t":8.95,"y":1.3},{"t":9.0,"y":2.2},{"t":9.05,"y":3.0},{"t":9.1,"y":3.9},{"t":9.15,"y":4.7},{"t":9.2,"y":5.6},{"t":10.0,"y":0.8},{"t":10.05,"y":1.8},{"t":10.1,"y":2.9},{"t":10.1,"y":4.2},{"t":10.15,"y":5.3},{"t":28.1,"y":3.0},{"t":28.15,"y":3.3},{"t":28.2,"y":3.6},{"t":28.25,"y":3.9},{"t":28.3,"y":3.45},{"t":39.7,"y":0.3},{"t":39.75,"y":1.1},{"t":39.8,"y":2.0},{"t":39.85,"y":3.0},{"t":39.9,"y":4.1},{"t":40.0,"y":5.2},{"t":40.1,"y":6.0},{"t":58.0,"y":5.8},{"t":58.1,"y":5.0},{"t":58.2,"y":4.2},{"t":58.3,"y":3.5},{"t":59.0,"y":1.5},{"t":59.05,"y":0.9},{"t":59.1,"y":0.4},{"t":87.2,"y":3.4},{"t":87.5,"y":2.8},{"t":87.8,"y":3.6},{"t":88.0,"y":3.1},{"t":88.2,"y":3.9},{"t":88.4,"y":2.5},{"t":88.6,"y":3.3},{"t":88.8,"y":4.4},{"t":87.6,"y":1.6},{"t":88.3,"y":1.1},
{"t":0.15,"y":4.4},{"t":0.85,"y":2.6},{"t":1.55,"y":0.6},{"t":2.25,"y":3.7},{"t":2.95,"y":5.0},{"t":3.65,"y":1.3},{"t":4.35,"y":4.5},{"t":5.05,"y":2.2},{"t":5.75,"y":0.4},{"t":6.45,"y":3.1},{"t":7.15,"y":5.3},{"t":7.85,"y":1.9},{"t":8.55,"y":4.7},{"t":9.25,"y":2.9},{"t":9.95,"y":0.8},{"t":10.65,"y":6.0},{"t":11.35,"y":3.4},{"t":12.05,"y":1.1},{"t":12.75,"y":4.3},{"t":13.45,"y":2.5},{"t":14.15,"y":0.3},{"t":14.85,"y":5.6},{"t":15.55,"y":3.9},{"t":16.25,"y":1.6},{"t":16.95,"y":4.9},{"t":17.65,"y":2.0},{"t":18.35,"y":0.9},{"t":19.05,"y":3.2},{"t":19.75,"y":5.8},{"t":20.45,"y":1.4},{"t":21.15,"y":4.1},{"t":21.85,"y":2.7},{"t":22.55,"y":0.5},{"t":23.25,"y":5.2},{"t":23.95,"y":3.6},{"t":24.65,"y":1.0},{"t":25.35,"y":6.1},{"t":26.05,"y":2.4},{"t":26.75,"y":4.4},{"t":27.45,"y":0.7},{"t":28.15,"y":3.3},{"t":28.85,"y":1.7},{"t":29.55,"y":5.4},{"t":30.25,"y":2.8},{"t":30.95,"y":4.6},{"t":31.65,"y":0.2},{"t":32.35,"y":3.8},{"t":33.05,"y":1.2},{"t":33.75,"y":5.1},{"t":34.45,"y":2.1},{"t":35.15,"y":4.2},{"t":35.85,"y":0.6},{"t":36.55,"y":3.0},{"t":37.25,"y":6.0},{"t":37.95,"y":1.5},{"t":38.65,"y":4.8},{"t":39.35,"y":2.3},{"t":40.05,"y":0.9},{"t":40.75,"y":3.5},{"t":41.45,"y":5.7},{"t":42.15,"y":1.8},{"t":42.85,"y":4.0},{"t":43.55,"y":0.3},{"t":44.25,"y":2.6},{"t":44.95,"y":5.5},{"t":45.65,"y":3.1},{"t":46.35,"y":1.0},{"t":47.05,"y":4.5},{"t":47.75,"y":2.0},{"t":48.45,"y":0.4},{"t":49.15,"y":5.9},{"t":49.85,"y":3.4},{"t":50.55,"y":1.3},{"t":51.25,"y":4.7},{"t":51.95,"y":2.5},{"t":52.65,"y":5.0},{"t":53.35,"y":0.8},{"t":54.05,"y":3.9},{"t":54.75,"y":2.2},{"t":55.45,"y":6.2},{"t":56.15,"y":1.6},{"t":56.85,"y":4.3},{"t":57.55,"y":3.3},{"t":58.25,"y":0.6},{"t":58.95,"y":5.2},{"t":59.65,"y":2.9},{"t":60.35,"y":1.1},{"t":61.05,"y":4.9},{"t":61.75,"y":3.7},{"t":62.45,"y":0.1},{"t":63.15,"y":2.7},{"t":63.85,"y":5.6},{"t":64.55,"y":1.9},{"t":65.25,"y":4.1},{"t":65.95,"y":0.5},{"t":66.65,"y":3.0},{"t":67.35,"y":5.3},{"t":68.05,"y":2.0},{"t":68.75,"y":4.6},{"t":69.45,"y":0.9},{"t":70.15,"y":3.6},{"t":70.85,"y":1.4},{"t":71.55,"y":5.8},{"t":72.25,"y":4.0},{"t":72.95,"y":2.4},{"t":73.65,"y":0.2},{"t":74.35,"y":5.0},{"t":75.05,"y":3.2},{"t":75.75,"y":1.7},{"t":76.45,"y":6.1},{"t":77.15,"y":2.8},{"t":77.85,"y":4.5},{"t":78.55,"y":0.7},{"t":79.25,"y":3.9},{"t":79.95,"y":1.2},{"t":80.65,"y":5.5},{"t":81.35,"y":2.3},{"t":82.05,"y":4.8},{"t":82.75,"y":0.4},{"t":83.45,"y":3.5},{"t":84.15,"y":1.5},{"t":84.85,"y":5.7},{"t":85.55,"y":4.2},{"t":86.25,"y":3.2},{"t":86.95,"y":3.8},{"t":87.65,"y":3.0},{"t":88.35,"y":3.5},{"t":89.05,"y":2.9},{"t":89.75,"y":1.8},{"t":90.45,"y":4.4},{"t":91.15,"y":2.1},{"t":91.85,"y":3.8},{"t":92.55,"y":0.3},{"t":93.25,"y":5.4},{"t":93.95,"y":2.9},{"t":94.65,"y":1.8},{"t":95.35,"y":4.9},{"t":96.05,"y":3.4},{"t":96.75,"y":0.6},{"t":97.45,"y":5.9},{"t":98.15,"y":2.5},{"t":98.85,"y":4.7},{"t":99.55,"y":1.3}],
"p3":[{"t":0.4,"y":5.4},{"t":0.9,"y":2.1},{"t":1.4,"y":3.9},{"t":1.9,"y":0.6},{"t":2.4,"y":4.6},{"t":2.9,"y":1.7},{"t":3.4,"y":3.2},{"t":3.9,"y":5.9},{"t":4.4,"y":0.9},{"t":4.9,"y":2.6},{"t":5.4,"y":4.3},{"t":5.9,"y":1.3},{"t":6.4,"y":5.1},{"t":6.9,"y":3.5},{"t":7.4,"y":0.3},{"t":7.9,"y":2.3},{"t":8.4,"y":4.9},{"t":8.9,"y":1.0},{"t":9.4,"y":3.7},{"t":9.9,"y":6.0},{"t":10.4,"y":1.9},{"t":10.9,"y":0.5},{"t":11.4,"y":4.0},{"t":11.9,"y":2.8},{"t":12.4,"y":5.6},{"t":12.9,"y":1.5},{"t":13.4,"y":3.3},{"t":13.9,"y":0.8},{"t":14.4,"y":4.7},{"t":14.9,"y":2.4},{"t":15.4,"y":5.8},{"t":15.9,"y":1.2},{"t":16.4,"y":3.6},{"t":16.9,"y":0.2},{"t":17.4,"y":4.4},{"t":17.9,"y":2.0},{"t":18.4,"y":5.3},{"t":18.9,"y":3.0},{"t":19.4,"y":0.7},{"t":19.9,"y":4.1},
{"t":20.4,"y":1.6},{"t":20.9,"y":4.8},{"t":21.4,"y":2.9},{"t":21.9,"y":0.4},{"t":22.4,"y":5.5},{"t":22.9,"y":3.4},{"t":23.4,"y":1.1},{"t":23.9,"y":4.2},{"t":24.4,"y":2.2},{"t":24.9,"y":6.1},{"t":25.4,"y":0.9},{"t":25.9,"y":3.8},{"t":26.4,"y":5.0},{"t":26.9,"y":1.8},{"t":27.4,"y":2.7},{"t":27.9,"y":4.5},{"t":28.4,"y":0.6},{"t":28.9,"y":3.1},{"t":29.4,"y":5.7},{"t":29.9,"y":1.4},{"t":30.4,"y":4.0},{"t":30.9,"y":2.5},{"t":31.4,"y":0.2},{"t":31.9,"y":5.2},{"t":32.4,"y":3.6},{"t":32.9,"y":1.0},{"t":33.4,"y":4.6},{"t":33.9,"y":2.3},{"t":34.4,"y":5.9},{"t":34.9,"y":0.7},{"t":35.4,"y":3.3},{"t":35.9,"y":1.9},{"t":36.4,"y":4.9},{"t":36.9,"y":2.8},{"t":37.4,"y":0.5},{"t":37.9,"y":5.4},{"t":38.4,"y":3.9},{"t":38.9,"y":1.6},{"t":39.4,"y":4.3},{"t":39.9,"y":2.1},
{"t":40.4,"y":3.5},{"t":40.9,"y":0.8},{"t":41.4,"y":5.0},{"t":41.9,"y":2.4},{"t":42.4,"y":4.4},{"t":42.9,"y":1.3},{"t":43.4,"y":6.0},{"t":43.9,"y":3.0},{"t":44.4,"y":0.3},{"t":44.9,"y":4.7},{"t":45.4,"y":1.9},{"t":45.9,"y":3.7},{"t":46.4,"y":5.5},{"t":46.9,"y":0.9},{"t":47.4,"y":2.6},{"t":47.9,"y":4.1},{"t":48.4,"y":1.5},{"t":48.9,"y":5.8},{"t":49.4,"y":3.2},{"t":49.9,"y":0.6},{"t":50.4,"y":2.2},{"t":50.9,"y":4.9},{"t":51.4,"y":1.2},{"t":51.9,"y":3.9},{"t":52.4,"y":5.3},{"t":52.9,"y":0.4},{"t":53.4,"y":2.9},{"t":53.9,"y":4.5},{"t":54.4,"y":1.7},{"t":54.9,"y":6.2},{"t":55.4,"y":3.4},{"t":55.9,"y":0.8},{"t":56.4,"y":2.0},{"t":56.9,"y":5.1},{"t":57.4,"y":3.6},{"t":57.9,"y":1.1},{"t":58.4,"y":4.3},{"t":58.9,"y":2.7},{"t":59.4,"y":0.5},{"t":59.9,"y":5.6},
{"t":60.4,"y":2.5},{"t":60.9,"y":4.8},{"t":61.4,"y":0.9},{"t":61.9,"y":3.3},{"t":62.4,"y":5.7},{"t":62.9,"y":1.6},{"t":63.4,"y":4.0},{"t":63.9,"y":2.2},{"t":64.4,"y":0.4},{"t":64.9,"y":5.1},{"t":65.4,"y":3.0},{"t":65.9,"y":1.3},{"t":66.4,"y":4.6},{"t":66.9,"y":2.7},{"t":67.4,"y":6.0},{"t":67.9,"y":0.7},{"t":68.4,"y":3.6},{"t":68.9,"y":5.4},{"t":69.4,"y":1.9},{"t":69.9,"y":4.2},{"t":70.4,"y":2.4},{"t":70.9,"y":0.2},{"t":71.4,"y":5.9},{"t":71.9,"y":3.1},{"t":72.4,"y":1.5},{"t":72.9,"y":4.7},{"t":73.4,"y":2.0},{"t":73.9,"y":5.2},{"t":74.4,"y":0.8},{"t":74.9,"y":3.8},{"t":75.4,"y":1.2},{"t":75.9,"y":4.4},{"t":76.4,"y":2.9},{"t":76.9,"y":6.1},{"t":77.4,"y":0.5},{"t":77.9,"y":3.4},{"t":78.4,"y":5.0},{"t":78.9,"y":1.8},{"t":79.4,"y":4.1},{"t":79.9,"y":2.6},
{"t":80.4,"y":0.6},{"t":80.9,"y":4.0},{"t":81.4,"y":2.3},{"t":81.9,"y":5.6},{"t":82.4,"y":1.4},{"t":82.9,"y":3.5},{"t":83.4,"y":6.0},{"t":83.9,"y":2.8},{"t":84.4,"y":0.9},{"t":84.9,"y":4.7},{"t":85.4,"y":1.7},{"t":85.9,"y":3.2},{"t":86.4,"y":5.3},{"t":86.9,"y":0.3},{"t":87.4,"y":2.5},{"t":87.9,"y":4.4},{"t":88.4,"y":1.1},{"t":88.9,"y":3.9},{"t":89.4,"y":5.8},{"t":89.9,"y":2.0},{"t":90.4,"y":0.7},{"t":90.9,"y":4.9},{"t":91.4,"y":3.0},{"t":91.9,"y":1.5},{"t":92.4,"y":5.5},{"t":92.9,"y":2.6},{"t":93.4,"y":0.4},{"t":93.9,"y":3.7},{"t":94.4,"y":4.8},{"t":94.9,"y":1.9},{"t":95.4,"y":6.1},{"t":95.9,"y":3.3},{"t":96.4,"y":1.0},{"t":96.9,"y":4.3},{"t":97.4,"y":2.1},{"t":97.9,"y":5.1},{"t":98.4,"y":0.5},{"t":98.9,"y":3.6},{"t":99.4,"y":2.9},{"t":99.9,"y":4.6},
{"t":7.6,"y":6.1},{"t":7.8,"y":5.5},{"t":8.0,"y":5.0},{"t":8.2,"y":4.5},{"t":8.4,"y":4.0},{"t":8.6,"y":3.6},{"t":8.8,"y":3.1},{"t":9.0,"y":2.6},{"t":9.2,"y":2.1},{"t":9.4,"y":1.7},{"t":9.6,"y":1.2},{"t":9.8,"y":0.8},{"t":10.0,"y":0.5},{"t":10.2,"y":0.2},{"t":39.4,"y":6.1},{"t":39.35,"y":5.4},{"t":39.3,"y":4.7},{"t":39.25,"y":4.0},{"t":39.2,"y":3.3},{"t":39.15,"y":2.6},{"t":39.1,"y":1.9},{"t":39.0,"y":1.2},{"t":38.95,"y":0.6},{"t":38.9,"y":0.15},{"t":64.5,"y":6.1},{"t":65.0,"y":5.6},{"t":65.5,"y":5.0},{"t":66.0,"y":4.5},{"t":66.5,"y":3.9},{"t":67.0,"y":3.4},{"t":67.5,"y":2.8},{"t":68.0,"y":2.3},{"t":68.5,"y":1.8},{"t":69.0,"y":1.3},{"t":69.5,"y":0.8},{"t":70.0,"y":0.3},{"t":70.4,"y":0.6},{"t":70.8,"y":1.3},{"t":71.2,"y":2.0},{"t":71.6,"y":2.6},{"t":72.0,"y":3.1},{"t":72.4,"y":3.6},{"t":72.8,"y":4.0},{"t":73.8,"y":6.0},{"t":74.4,"y":5.6},{"t":75.0,"y":5.2},{"t":75.6,"y":4.9},{"t":76.2,"y":4.5},{"t":76.8,"y":4.2},
{"t":0.3,"y":1.9},{"t":1.0,"y":5.6},{"t":1.7,"y":2.7},{"t":2.4,"y":0.1},{"t":3.1,"y":3.7},{"t":3.8,"y":4.9},{"t":4.5,"y":1.1},{"t":5.2,"y":2.9},{"t":5.9,"y":5.2},{"t":6.6,"y":0.6},{"t":7.3,"y":3.3},{"t":8.0,"y":4.3},{"t":8.7,"y":1.6},{"t":9.4,"y":6.2},{"t":10.1,"y":2.2},{"t":10.8,"y":3.9},{"t":11.5,"y":0.8},{"t":12.2,"y":5.0},{"t":12.9,"y":2.5},{"t":13.6,"y":4.7},{"t":14.3,"y":1.3},{"t":15.0,"y":3.4},{"t":15.7,"y":5.9},{"t":16.4,"y":0.4},{"t":17.1,"y":2.0},{"t":17.8,"y":4.5},{"t":18.5,"y":1.0},{"t":19.2,"y":3.1},{"t":19.9,"y":5.5},{"t":20.6,"y":2.6},{"t":21.3,"y":0.3},{"t":22.0,"y":4.0},{"t":22.7,"y":1.8},{"t":23.4,"y":5.7},{"t":24.1,"y":3.5},{"t":24.8,"y":0.9},{"t":25.5,"y":2.3},{"t":26.2,"y":4.8},{"t":26.9,"y":1.5},{"t":27.6,"y":6.0},{"t":28.3,"y":3.0},{"t":29.0,"y":0.6},{"t":29.7,"y":4.2},{"t":30.4,"y":2.1},{"t":31.1,"y":5.1},{"t":31.8,"y":1.2},{"t":32.5,"y":3.8},{"t":33.2,"y":0.2},{"t":33.9,"y":4.6},{"t":34.6,"y":2.8},{"t":35.3,"y":5.4},{"t":36.0,"y":1.7},{"t":36.7,"y":3.3},{"t":37.4,"y":0.7},{"t":38.1,"y":4.4},{"t":38.8,"y":2.4},{"t":39.5,"y":6.1},{"t":40.2,"y":1.0},{"t":40.9,"y":3.6},{"t":41.6,"y":5.2},{"t":42.3,"y":0.5},{"t":43.0,"y":2.7},{"t":43.7,"y":4.1},{"t":44.4,"y":1.4},{"t":45.1,"y":5.8},{"t":45.8,"y":3.2},{"t":46.5,"y":0.9},{"t":47.2,"y":2.0},{"t":47.9,"y":4.9},{"t":48.6,"y":1.6},{"t":49.3,"y":3.9},{"t":50.0,"y":5.6},{"t":50.7,"y":0.3},{"t":51.4,"y":2.5},{"t":52.1,"y":4.3},{"t":52.8,"y":1.1},{"t":53.5,"y":3.4},{"t":54.2,"y":6.0},{"t":54.9,"y":0.8},{"t":55.6,"y":2.9},{"t":56.3,"y":4.7},{"t":57.0,"y":1.9},{"t":57.7,"y":5.3},{"t":58.4,"y":3.1},{"t":59.1,"y":0.4},{"t":59.8,"y":2.2},{"t":60.5,"y":4.5},{"t":61.2,"y":1.3},{"t":61.9,"y":5.0},{"t":62.6,"y":3.7},{"t":63.3,"y":0.6},{"t":64.0,"y":2.6},{"t":64.7,"y":4.4},{"t":65.4,"y":1.3},{"t":66.1,"y":4.7},{"t":66.8,"y":2.5},{"t":67.5,"y":5.9},{"t":68.2,"y":0.6},{"t":68.9,"y":3.4},{"t":69.6,"y":4.9},{"t":70.3,"y":1.8},{"t":71.0,"y":2.9},{"t":71.7,"y":5.4},{"t":72.4,"y":0.3},{"t":73.1,"y":3.8},{"t":73.8,"y":2.1},{"t":74.5,"y":4.4},{"t":75.2,"y":6.0},{"t":75.9,"y":1.0},{"t":76.6,"y":3.1},{"t":77.3,"y":5.1},{"t":78.0,"y":0.8},{"t":78.7,"y":2.6},{"t":79.4,"y":4.2},{"t":80.1,"y":5.7},{"t":80.8,"y":1.5},{"t":81.5,"y":3.5},{"t":82.2,"y":0.4},{"t":82.9,"y":4.8},{"t":83.6,"y":2.3},{"t":84.3,"y":5.5},{"t":85.0,"y":1.2},{"t":85.7,"y":3.9},{"t":86.4,"y":0.7},{"t":87.1,"y":4.5},{"t":87.8,"y":2.8},{"t":88.5,"y":6.1},{"t":89.2,"y":1.7},{"t":89.9,"y":3.2},{"t":90.6,"y":5.0},{"t":91.3,"y":0.2},{"t":92.0,"y":2.4},{"t":92.7,"y":4.0},{"t":93.4,"y":5.8},{"t":94.1,"y":1.4},{"t":94.8,"y":3.6},{"t":95.5,"y":0.9},{"t":96.2,"y":4.6},{"t":96.9,"y":2.0},{"t":97.6,"y":5.3},{"t":98.3,"y":3.0},{"t":99.0,"y":0.5},{"t":99.7,"y":4.1}],
"p4":[{"t":0.1,"y":2.8},{"t":0.6,"y":5.2},{"t":1.1,"y":0.7},{"t":1.6,"y":3.9},{"t":2.1,"y":1.6},{"t":2.6,"y":4.5},{"t":3.1,"y":6.0},{"t":3.6,"y":2.2},{"t":4.1,"y":0.4},{"t":4.6,"y":3.5},{"t":5.1,"y":5.6},{"t":5.6,"y":1.3},{"t":6.1,"y":4.1},{"t":6.6,"y":2.6},{"t":7.1,"y":0.9},{"t":7.6,"y":5.0},{"t":8.1,"y":3.2},{"t":8.6,"y":1.8},{"t":9.1,"y":4.7},{"t":9.6,"y":6.2},{"t":10.1,"y":0.5},{"t":10.6,"y":2.9},{"t":11.1,"y":4.3},{"t":11.6,"y":1.1},{"t":12.1,"y":5.4},{"t":12.6,"y":3.6},{"t":13.1,"y":2.0},{"t":13.6,"y":0.3},{"t":14.1,"y":4.9},{"t":14.6,"y":2.5},{"t":15.1,"y":5.8},{"t":15.6,"y":1.5},{"t":16.1,"y":3.3},{"t":16.6,"y":0.8},{"t":17.1,"y":4.4},{"t":17.6,"y":2.1},{"t":18.1,"y":5.5},{"t":18.6,"y":3.0},{"t":19.1,"y":1.2},{"t":19.6,"y":4.0},
{"t":20.1,"y":5.9},{"t":20.6,"y":1.9},{"t":21.1,"y":3.4},{"t":21.6,"y":0.6},{"t":22.1,"y":4.6},{"t":22.6,"y":2.7},{"t":23.1,"y":5.1},{"t":23.6,"y":1.0},{"t":24.1,"y":3.8},{"t":24.6,"y":0.2},{"t":25.1,"y":2.3},{"t":25.6,"y":4.8},{"t":26.1,"y":6.1},{"t":26.6,"y":1.7},{"t":27.1,"y":3.1},{"t":27.6,"y":5.3},{"t":28.1,"y":0.8},{"t":28.6,"y":4.2},{"t":29.1,"y":2.6},{"t":29.6,"y":5.7},{"t":30.1,"y":1.4},{"t":30.6,"y":3.6},{"t":31.1,"y":0.4},{"t":31.6,"y":4.9},{"t":32.1,"y":2.0},{"t":32.6,"y":5.5},{"t":33.1,"y":3.3},{"t":33.6,"y":1.2},{"t":34.1,"y":4.4},{"t":34.6,"y":2.8},{"t":35.1,"y":0.7},{"t":35.6,"y":5.0},{"t":36.1,"y":3.9},{"t":36.6,"y":1.6},{"t":37.1,"y":6.0},{"t":37.6,"y":2.4},{"t":38.1,"y":0.9},{"t":38.6,"y":4.1},{"t":39.1,"y":3.0},{"t":39.6,"y":5.4},
{"t":40.1,"y":1.3},{"t":40.6,"y":4.3},{"t":41.1,"y":2.5},{"t":41.6,"y":6.2},{"t":42.1,"y":0.5},{"t":42.6,"y":3.6},{"t":43.1,"y":5.2},{"t":43.6,"y":1.9},{"t":44.1,"y":4.0},{"t":44.6,"y":2.9},{"t":45.1,"y":0.3},{"t":45.6,"y":5.6},{"t":46.1,"y":3.3},{"t":46.6,"y":1.5},{"t":47.1,"y":4.7},{"t":47.6,"y":2.1},{"t":48.1,"y":5.9},{"t":48.6,"y":0.9},{"t":49.1,"y":3.8},{"t":49.6,"y":1.1},{"t":50.1,"y":4.5},{"t":50.6,"y":2.7},{"t":51.1,"y":6.0},{"t":51.6,"y":0.6},{"t":52.1,"y":3.0},{"t":52.6,"y":5.3},{"t":53.1,"y":1.7},{"t":53.6,"y":4.2},{"t":54.1,"y":2.3},{"t":54.6,"y":5.0},{"t":55.1,"y":0.4},{"t":55.6,"y":3.5},{"t":56.1,"y":1.2},{"t":56.6,"y":4.8},{"t":57.1,"y":2.6},{"t":57.6,"y":5.7},{"t":58.1,"y":0.8},{"t":58.6,"y":3.2},{"t":59.1,"y":4.4},{"t":59.6,"y":1.8},
{"t":60.1,"y":3.7},{"t":60.6,"y":0.5},{"t":61.1,"y":5.1},{"t":61.6,"y":2.4},{"t":62.1,"y":4.3},{"t":62.6,"y":1.4},{"t":63.1,"y":6.1},{"t":63.6,"y":3.2},{"t":64.1,"y":0.9},{"t":64.6,"y":4.6},{"t":65.1,"y":2.0},{"t":65.6,"y":5.5},{"t":66.1,"y":1.1},{"t":66.6,"y":3.5},{"t":67.1,"y":4.9},{"t":67.6,"y":0.3},{"t":68.1,"y":2.8},{"t":68.6,"y":5.8},{"t":69.1,"y":1.6},{"t":69.6,"y":3.9},{"t":70.1,"y":0.7},{"t":70.6,"y":4.4},{"t":71.1,"y":2.2},{"t":71.6,"y":5.2},{"t":72.1,"y":1.0},{"t":72.6,"y":3.4},{"t":73.1,"y":6.0},{"t":73.6,"y":2.6},{"t":74.1,"y":4.1},{"t":74.6,"y":0.6},{"t":75.6,"y":5.4},{"t":76.1,"y":1.9},{"t":76.6,"y":4.7},{"t":77.1,"y":0.2},{"t":77.6,"y":2.5},{"t":78.1,"y":5.0},{"t":78.6,"y":3.6},{"t":79.1,"y":1.3},{"t":79.6,"y":4.0},
{"t":80.1,"y":4.9},{"t":80.6,"y":2.3},{"t":81.1,"y":0.8},{"t":81.6,"y":3.5},{"t":82.1,"y":5.7},{"t":82.6,"y":1.6},{"t":83.1,"y":4.2},{"t":83.6,"y":2.9},{"t":84.1,"y":0.4},{"t":84.6,"y":5.3},{"t":85.1,"y":3.1},{"t":85.6,"y":1.2},{"t":86.1,"y":4.6},{"t":86.6,"y":2.0},{"t":87.1,"y":6.1},{"t":87.6,"y":0.7},{"t":88.1,"y":3.8},{"t":88.6,"y":5.0},{"t":89.1,"y":1.5},{"t":89.6,"y":2.6},{"t":90.1,"y":4.4},{"t":90.6,"y":0.3},{"t":91.1,"y":5.9},{"t":91.6,"y":3.3},{"t":92.1,"y":1.8},{"t":92.6,"y":4.8},{"t":93.1,"y":2.4},{"t":93.6,"y":0.9},{"t":94.1,"y":3.6},{"t":94.6,"y":5.5},{"t":95.1,"y":1.1},{"t":95.6,"y":4.1},{"t":96.1,"y":2.7},{"t":96.6,"y":6.0},{"t":97.1,"y":0.5},{"t":97.6,"y":3.0},{"t":98.1,"y":4.7},{"t":98.6,"y":1.4},{"t":99.1,"y":0.2},{"t":99.6,"y":2.2},
{"t":74.0,"y":6.1},{"t":74.05,"y":5.6},{"t":74.1,"y":5.1},{"t":74.1,"y":4.6},{"t":74.15,"y":4.1},{"t":74.2,"y":3.6},{"t":74.2,"y":3.1},
{"t":0.6,"y":5.4},{"t":1.3,"y":1.7},{"t":2.0,"y":3.3},{"t":2.7,"y":0.7},{"t":3.4,"y":4.4},{"t":4.1,"y":2.4},{"t":4.8,"y":6.1},{"t":5.5,"y":1.0},{"t":6.2,"y":3.6},{"t":6.9,"y":5.2},{"t":7.6,"y":0.5},{"t":8.3,"y":2.7},{"t":9.0,"y":4.1},{"t":9.7,"y":1.4},{"t":10.4,"y":5.8},{"t":11.1,"y":3.2},{"t":11.8,"y":0.9},{"t":12.5,"y":2.0},{"t":13.2,"y":4.9},{"t":13.9,"y":1.6},{"t":14.6,"y":3.9},{"t":15.3,"y":5.6},{"t":16.0,"y":0.3},{"t":16.7,"y":2.5},{"t":17.4,"y":4.3},{"t":18.1,"y":1.1},{"t":18.8,"y":3.4},{"t":19.5,"y":6.0},{"t":20.2,"y":0.8},{"t":20.9,"y":2.9},{"t":21.6,"y":4.7},{"t":22.3,"y":1.9},{"t":23.0,"y":5.3},{"t":23.7,"y":3.1},{"t":24.4,"y":0.4},{"t":25.1,"y":2.2},{"t":25.8,"y":4.5},{"t":26.5,"y":1.3},{"t":27.2,"y":5.0},{"t":27.9,"y":3.7},{"t":28.6,"y":0.6},{"t":29.3,"y":2.6},{"t":30.0,"y":4.4},{"t":30.7,"y":1.3},{"t":31.4,"y":4.7},{"t":32.1,"y":2.5},{"t":32.8,"y":5.9},{"t":33.5,"y":0.6},{"t":34.2,"y":3.4},{"t":34.9,"y":4.9},{"t":35.6,"y":1.8},{"t":36.3,"y":2.9},{"t":37.0,"y":5.4},{"t":37.7,"y":0.3},{"t":38.4,"y":3.8},{"t":39.1,"y":2.1},{"t":39.8,"y":4.4},{"t":40.5,"y":6.0},{"t":41.2,"y":1.0},{"t":41.9,"y":3.1},{"t":42.6,"y":5.1},{"t":43.3,"y":0.8},{"t":44.0,"y":2.6},{"t":44.7,"y":4.2},{"t":45.4,"y":5.7},{"t":46.1,"y":1.5},{"t":46.8,"y":3.5},{"t":47.5,"y":0.4},{"t":48.2,"y":4.8},{"t":48.9,"y":2.3},{"t":49.6,"y":5.5},{"t":50.3,"y":1.2},{"t":51.0,"y":3.9},{"t":51.7,"y":0.7},{"t":52.4,"y":4.5},{"t":53.1,"y":2.8},{"t":53.8,"y":6.1},{"t":54.5,"y":1.7},{"t":55.2,"y":3.2},{"t":55.9,"y":5.0},{"t":56.6,"y":0.2},{"t":57.3,"y":2.4},{"t":58.0,"y":4.0},{"t":58.7,"y":5.8},{"t":59.4,"y":1.4},{"t":60.1,"y":3.6},{"t":60.8,"y":0.9},{"t":61.5,"y":4.6},{"t":62.2,"y":2.0},{"t":62.9,"y":5.3},{"t":63.6,"y":3.0},{"t":64.3,"y":0.5},{"t":65.0,"y":4.1},{"t":65.7,"y":1.9},{"t":66.4,"y":5.6},{"t":67.1,"y":2.7},{"t":67.8,"y":0.1},{"t":68.5,"y":3.7},{"t":69.2,"y":4.9},{"t":69.9,"y":1.1},{"t":70.6,"y":2.9},{"t":71.3,"y":5.2},{"t":72.0,"y":0.6},{"t":72.7,"y":3.3},{"t":73.4,"y":4.3},{"t":74.1,"y":1.6},{"t":76.2,"y":3.9},{"t":76.9,"y":0.8},{"t":77.6,"y":5.0},{"t":78.3,"y":2.5},{"t":79.0,"y":4.7},{"t":79.7,"y":1.3},{"t":80.4,"y":3.4},{"t":81.1,"y":5.9},{"t":81.8,"y":0.4},{"t":82.5,"y":2.0},{"t":83.2,"y":4.5},{"t":83.9,"y":1.0},{"t":84.6,"y":3.1},{"t":85.3,"y":5.5},{"t":86.0,"y":2.6},{"t":86.7,"y":0.3},{"t":87.4,"y":4.0},{"t":88.1,"y":1.8},{"t":88.8,"y":5.7},{"t":89.5,"y":3.5},{"t":90.2,"y":0.9},{"t":90.9,"y":2.3},{"t":91.6,"y":4.8},{"t":92.3,"y":1.5},{"t":93.0,"y":6.0},{"t":93.7,"y":3.0},{"t":94.4,"y":0.6},{"t":95.1,"y":4.2},{"t":95.8,"y":2.1},{"t":96.5,"y":5.1},{"t":97.2,"y":1.2},{"t":97.9,"y":3.8},{"t":98.6,"y":0.2},{"t":99.3,"y":4.6},{"t":100.0,"y":2.8}]
},
"vconcat":[
{"bounds":"flush","spacing":110,"hconcat":[
{"width":257,"height":101.5,"data":{"name":"tl"},
"mark":{"type":"square","size":7,"color":"black","opacity":1},
"encoding":{
"x":{"field":"t","type":"quantitative","scale":{"domain":[0,10],"nice":false},"axis":{"values":[0,2,4,6,8,10],"title":"time (Myr)","labelPadding":15,"titleY":45,"titleBaseline":"alphabetic"}},
"y":{"field":"y","type":"quantitative","scale":{"domain":[0,6.2832],"nice":false},"axis":{"values":[0,1.5708,3.1416,4.7124,6.2832],"labelExpr":"datum.value < 0.5 ? '0' : datum.value < 2 ? 'π/2' : datum.value < 4 ? 'π' : datum.value < 5.5 ? '3π/2' : '2π'","labelPadding":20,"title":"Δϖ − 6ΔΩ","titleAngle":300,"titleX":-89,"titleY":50.75,"titleAlign":"center","titleBaseline":"middle"}}}},
{"width":257,"height":101.5,
"encoding":{"x":{"field":"t","type":"quantitative","scale":{"domain":[0,10],"nice":false},"axis":{"values":[0,2,4,6,8,10],"title":"time (Myr)","labelPadding":15,"titleY":45,"titleBaseline":"alphabetic"}}},
"layer":[
{"encoding":{"y":{"field":"v","type":"quantitative","scale":{"domain":[0.16406,0.1661],"nice":false,"zero":false},"axis":{"orient":"left","values":[0.16428,0.16481,0.16534,0.16587],"format":".4f","labelPadding":20,"title":null}}},
"layer":[
{"data":{"name":"ep"},"mark":{"type":"line","color":"#ff0000","strokeWidth":1}},
{"data":{"name":"lab"},"transform":[{"filter":"datum.k == 'e'"}],"mark":{"type":"text","text":"e","fontSize":20,"fontStyle":"italic","font":"Liberation Serif, DejaVu Serif, serif","color":"#ff0000","align":"right","baseline":"alphabetic","dx":-1}},
{"data":{"name":"lab"},"transform":[{"filter":"datum.k == 'eP'"}],"mark":{"type":"text","text":"P","fontSize":13,"font":"Liberation Serif, DejaVu Serif, serif","color":"#ff0000","align":"left","baseline":"alphabetic","dx":0}}
]},
{"encoding":{"y":{"field":"v","type":"quantitative","scale":{"domain":[2.63218,2.63314],"nice":false,"zero":false},"axis":{"orient":"right","values":[2.63228,2.63253,2.63278,2.63303],"format":".4f","labelPadding":19.5,"title":null}}},
"layer":[
{"data":{"name":"ip"},"mark":{"type":"line","color":"#0000ff","strokeWidth":1}},
{"data":{"name":"lab"},"transform":[{"filter":"datum.k == 'i'"}],"mark":{"type":"text","text":"i","fontSize":20,"fontStyle":"italic","font":"Liberation Serif, DejaVu Serif, serif","color":"#0000ff","align":"right","baseline":"alphabetic","dx":-4}},
{"data":{"name":"lab"},"transform":[{"filter":"datum.k == 'iP'"}],"mark":{"type":"text","text":"P","fontSize":13,"font":"Liberation Serif, DejaVu Serif, serif","color":"#0000ff","align":"left","baseline":"alphabetic","dx":-3}}
]}
],
"resolve":{"scale":{"y":"independent"}}}
]},
{"bounds":"flush","spacing":0,"vconcat":[
{"width":624,"height":77,
"encoding":{
"x":{"field":"t","type":"quantitative","scale":{"domain":[0,100],"nice":false},"axis":{"values":[0,10,20,30,40,50,60,70,80,90,100],"labels":false,"title":null}},
"y":{"field":"y","type":"quantitative","scale":{"domain":[0,6.2832],"nice":false},"axis":{"values":[0,1.5708,3.1416,4.7124,6.2832],"labelExpr":"datum.value < 0.5 ? '0' : datum.value < 2 ? 'π/2' : datum.value < 4 ? 'π' : datum.value < 5.5 ? '3π/2' : '2π'","labelPadding":20,"title":"Δϖ − 6ΔΩ","titleAngle":300,"titleX":-85,"titleY":38.5,"titleAlign":"center","titleBaseline":"middle"}}},
"layer":[
{"data":{"name":"boxes"},"transform":[{"filter":"datum.p == 1"}],"mark":{"type":"rect","color":"#cccccc"},"encoding":{"x2":{"field":"t2"},"y2":{"field":"y2"}}},
{"data":{"name":"p1"},"mark":{"type":"square","size":6,"color":"black","opacity":1}},
{"data":{"name":"arrows"},"mark":{"type":"rule","color":"black","strokeWidth":0.8},"encoding":{"x2":{"field":"t2"},"y2":{"field":"y2"}}},
{"data":{"name":"heads"},"transform":[{"filter":"datum.id == 1"}],"mark":{"type":"point","shape":"M0,0L-1,-0.35M0,0L-1,0.35","size":400,"filled":false,"stroke":"black","strokeWidth":0.8,"opacity":1,"angle":205}},
{"data":{"name":"heads"},"transform":[{"filter":"datum.id == 2"}],"mark":{"type":"point","shape":"M0,0L-1,-0.35M0,0L-1,0.35","size":400,"filled":false,"stroke":"black","strokeWidth":0.8,"opacity":1,"angle":-3.35}}
]},
{"width":624,"height":77,
"encoding":{
"x":{"field":"t","type":"quantitative","scale":{"domain":[0,100],"nice":false},"axis":{"values":[0,10,20,30,40,50,60,70,80,90,100],"labels":false,"title":null}},
"y":{"field":"y","type":"quantitative","scale":{"domain":[0,6.2832],"nice":false},"axis":{"values":[0,1.5708,3.1416,4.7124],"labelExpr":"datum.value < 0.5 ? '0' : datum.value < 2 ? 'π/2' : datum.value < 4 ? 'π' : '3π/2'","labelPadding":20,"title":"Δϖ − 4ΔΩ","titleAngle":300,"titleX":-85,"titleY":38.5,"titleAlign":"center","titleBaseline":"middle"}}},
"layer":[
{"data":{"name":"boxes"},"transform":[{"filter":"datum.p == 2"}],"mark":{"type":"rect","color":"#cccccc"},"encoding":{"x2":{"field":"t2"},"y2":{"field":"y2"}}},
{"data":{"name":"p2"},"mark":{"type":"square","size":6,"color":"black","opacity":1}}
]},
{"width":624,"height":77,"data":{"name":"p3"},
"mark":{"type":"square","size":6,"color":"black","opacity":1},
"encoding":{
"x":{"field":"t","type":"quantitative","scale":{"domain":[0,100],"nice":false},"axis":{"values":[0,10,20,30,40,50,60,70,80,90,100],"labels":false,"title":null}},
"y":{"field":"y","type":"quantitative","scale":{"domain":[0,6.2832],"nice":false},"axis":{"values":[0,1.5708,3.1416,4.7124],"labelExpr":"datum.value < 0.5 ? '0' : datum.value < 2 ? 'π/2' : datum.value < 4 ? 'π' : '3π/2'","labelPadding":20,"title":"ΔΩ","titleAngle":300,"titleX":-85,"titleY":38.5,"titleAlign":"center","titleBaseline":"middle"}}}},
{"width":624,"height":76.5,"data":{"name":"p4"},
"mark":{"type":"square","size":6,"color":"black","opacity":1},
"encoding":{
"x":{"field":"t","type":"quantitative","scale":{"domain":[0,100],"nice":false},"axis":{"values":[0,10,20,30,40,50,60,70,80,90,100],"title":"time (Myr)","labelPadding":22,"titleY":62.5,"titleBaseline":"alphabetic"}},
"y":{"field":"y","type":"quantitative","scale":{"domain":[0,6.2832],"nice":false},"axis":{"values":[0,1.5708,3.1416,4.7124],"labelExpr":"datum.value < 0.5 ? '0' : datum.value < 2 ? 'π/2' : datum.value < 4 ? 'π' : '3π/2'","labelPadding":20,"title":"Δϖ","titleAngle":300,"titleX":-85,"titleY":38.25,"titleAlign":"center","titleBaseline":"middle"}}}}
]}
]
}
